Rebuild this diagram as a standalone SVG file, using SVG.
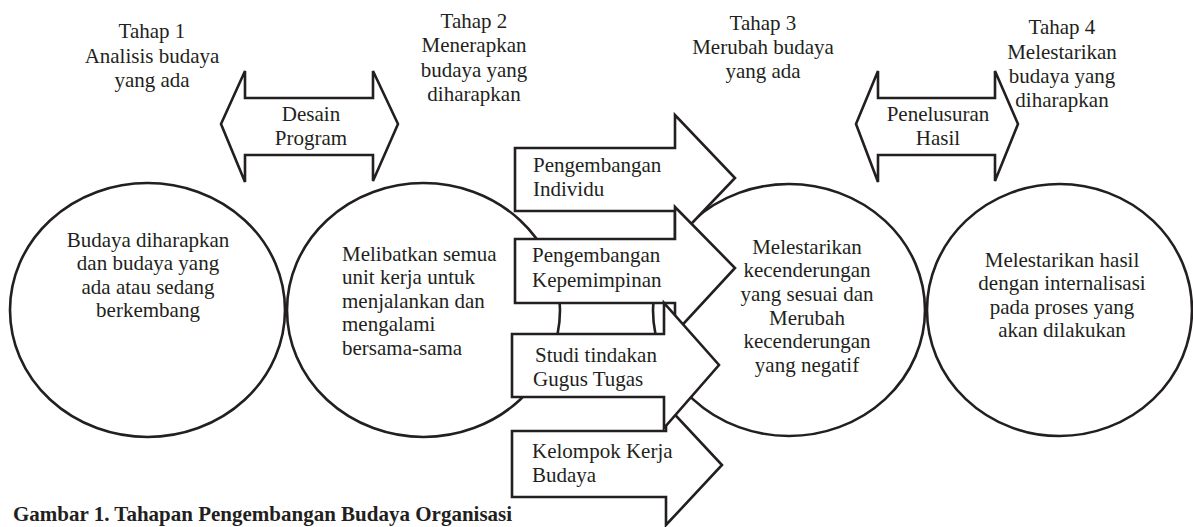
<svg xmlns="http://www.w3.org/2000/svg" width="1193" height="527" viewBox="0 0 1193 527">
<style>
  .shape { fill: #ffffff; stroke: #231f20; stroke-width: 2.6; stroke-linejoin: miter; }
  .t { font-family: "Liberation Serif", "Times New Roman", serif; font-size: 21px; fill: #231f20; }
  .c { text-anchor: middle; }
  .cap { font-family: "Liberation Serif", "Times New Roman", serif; font-size: 21px; font-weight: bold; fill: #231f20; }
</style>
<rect x="0" y="0" width="1193" height="527" fill="#ffffff"/>

<g id="stage-labels">
  <text class="t c" x="152" y="38">Tahap 1</text>
  <text class="t c" x="152" y="63">Analisis budaya</text>
  <text class="t c" x="152" y="87">yang ada</text>

  <text class="t c" x="474" y="28">Tahap 2</text>
  <text class="t c" x="474" y="52">Menerapkan</text>
  <text class="t c" x="474" y="77">budaya yang</text>
  <text class="t c" x="474" y="101">diharapkan</text>

  <text class="t c" x="763" y="30">Tahap 3</text>
  <text class="t c" x="763" y="54">Merubah budaya</text>
  <text class="t c" x="763" y="78">yang ada</text>

  <text class="t c" x="1062" y="34">Tahap 4</text>
  <text class="t c" x="1062" y="59">Melestarikan</text>
  <text class="t c" x="1062" y="83">budaya yang</text>
  <text class="t c" x="1062" y="107">diharapkan</text>
</g>

<g id="node-circle1">
  <ellipse class="shape" cx="147.5" cy="310" rx="137.5" ry="127"/>
  <text class="t c" x="148" y="247">Budaya diharapkan</text>
  <text class="t c" x="148" y="270">dan budaya yang</text>
  <text class="t c" x="148" y="294">ada atau sedang</text>
  <text class="t c" x="148" y="317">berkembang</text>
</g>

<g id="node-circle2">
  <ellipse class="shape" cx="423.5" cy="310" rx="136.5" ry="127"/>
  <text class="t" x="342" y="261">Melibatkan semua</text>
  <text class="t" x="342" y="284">unit kerja untuk</text>
  <text class="t" x="342" y="308">menjalankan dan</text>
  <text class="t" x="342" y="331">mengalami</text>
  <text class="t" x="342" y="355">bersama-sama</text>
</g>

<g id="node-circle3">
  <ellipse class="shape" cx="789" cy="310" rx="136" ry="126"/>
  <text class="t c" x="807" y="254">Melestarikan</text>
  <text class="t c" x="807" y="277">kecenderungan</text>
  <text class="t c" x="807" y="301">yang sesuai dan</text>
  <text class="t c" x="807" y="325">Merubah</text>
  <text class="t c" x="807" y="348">kecenderungan</text>
  <text class="t c" x="807" y="372">yang negatif</text>
</g>

<g id="node-circle4">
  <ellipse class="shape" cx="1059.5" cy="310" rx="132.5" ry="126"/>
  <text class="t c" x="1062" y="267">Melestarikan hasil</text>
  <text class="t c" x="1062" y="290">dengan internalisasi</text>
  <text class="t c" x="1062" y="314">pada proses yang</text>
  <text class="t c" x="1062" y="337">akan dilakukan</text>
</g>

<g id="connectors">
  <g id="arrow-desain">
    <polygon class="shape" points="221,124 245,71 245,98 373,98 373,71 398,124 373,181 373,155 245,155 245,182"/>
    <text class="t c" x="311" y="121">Desain</text>
    <text class="t c" x="311" y="145">Program</text>
  </g>
  <g id="arrow-penelusuran">
    <polygon class="shape" points="856,124 878,71 878,98 995,98 995,71 1018,124 995,181 995,155 878,155 878,182"/>
    <text class="t c" x="938" y="121">Penelusuran</text>
    <text class="t c" x="938" y="145">Hasil</text>
  </g>
  <g id="arrow-individu">
    <polygon class="shape" points="515,148 675,148 675,115 735,178 675,241 675,211 515,211"/>
    <text class="t" x="533" y="172">Pengembangan</text>
    <text class="t" x="533" y="196">Individu</text>
  </g>
  <g id="arrow-kepemimpinan">
    <polygon class="shape" points="515,239 675,239 675,207 735,268 675,333 675,303 515,303"/>
    <text class="t" x="532" y="262">Pengembangan</text>
    <text class="t" x="532" y="287">Kepemimpinan</text>
  </g>
  <g id="arrow-kelompok">
    <polygon class="shape" points="512,431 666,431 666,405 722,465 666,525 666,497 512,497"/>
    <text class="t" x="532" y="458">Kelompok Kerja</text>
    <text class="t" x="532" y="482">Budaya</text>
  </g>
  <g id="arrow-studi">
    <polygon class="shape" points="512,334 664,334 664,303 719,365 664,428 664,397 512,397"/>
    <text class="t" x="535" y="362">Studi tindakan</text>
    <text class="t" x="533" y="386">Gugus Tugas</text>
  </g>
</g>

<text class="cap" x="13" y="521">Gambar 1. Tahapan Pengembangan Budaya Organisasi</text>
</svg>
